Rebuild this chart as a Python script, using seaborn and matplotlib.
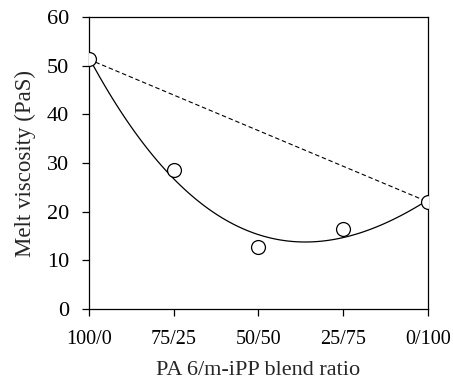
import numpy as np
import pandas as pd
import seaborn as sns
import matplotlib.pyplot as plt

# blend ratios and measured melt viscosity
ratios = ['100/0', '75/25', '50/50', '25/75', '0/100']
pos = [0, 1, 2, 3, 4]
viscosity = [51.3, 28.5, 12.7, 16.4, 22.0]

df = pd.DataFrame({'pos': pos, 'visc': viscosity})
ends = df.iloc[[0, -1]]

sns.set_style('ticks')
plt.rcParams['font.family'] = ['Liberation Serif', 'DejaVu Serif']

fig = plt.figure(figsize=(4.53, 3.87), dpi=100)
ax = fig.add_axes([0.196, 0.2016, 0.749, 0.7544])

# cubic trend line
sns.regplot(data=df, x='pos', y='visc', order=3, ci=None, scatter=False,
            line_kws={'color': 'black', 'lw': 0.9}, ax=ax)
# additivity line
sns.lineplot(data=ends, x='pos', y='visc', color='black', lw=0.8,
             linestyle=(0, (4, 2.5)), ax=ax)
sns.scatterplot(data=df, x='pos', y='visc', marker='o', s=100,
                facecolor='white', edgecolor='black', linewidth=0.9,
                zorder=5, ax=ax)

ax.set_xlim(0, 4)
ax.set_ylim(0, 60)
ax.set_xticks(pos)
ax.set_xticklabels(ratios)
ax.set_yticks(range(0, 61, 10))
for s in ax.spines.values():
    s.set_visible(True)
    s.set_linewidth(0.9)
    s.set_color('black')
ax.tick_params(length=5, width=0.9, colors='black')
ax.tick_params(axis='y', labelsize=16, pad=9)
ax.tick_params(axis='x', labelsize=14.5, pad=10)
ax.set_xlabel('PA 6/m-iPP blend ratio', fontsize=16, labelpad=9)
ax.set_ylabel('Melt viscosity (PaS)', fontsize=16.5, labelpad=8)

fig.savefig('out.png', dpi=100)
